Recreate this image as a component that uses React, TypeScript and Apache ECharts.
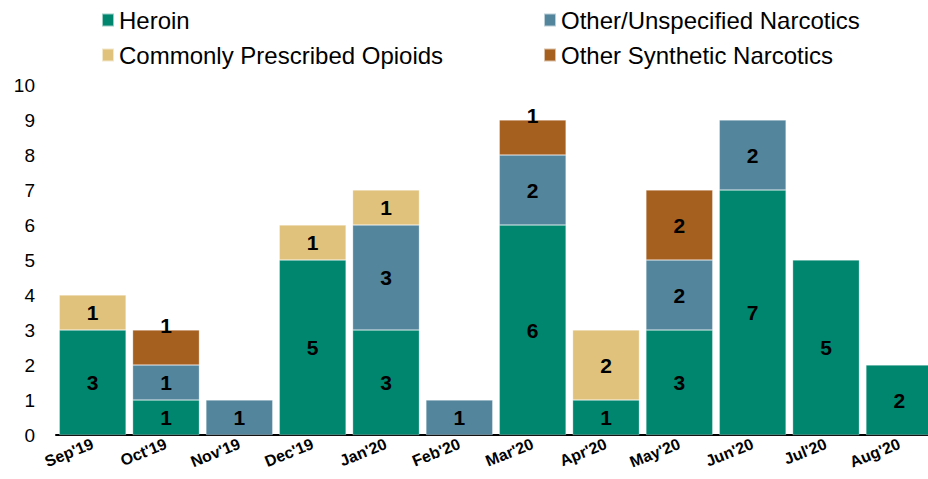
import React, { useEffect, useRef } from "react";
import * as echarts from "echarts";

const categories = ["Sep'19", "Oct'19", "Nov'19", "Dec'19", "Jan'20", "Feb'20", "Mar'20", "Apr'20", "May'20", "Jun'20", "Jul'20", "Aug'20"];
const heroin = [3, 1, 0, 5, 3, 0, 6, 1, 3, 7, 5, 2];
const otherUnspecified = [0, 1, 1, 0, 3, 1, 2, 0, 2, 2, 0, 0];
const commonlyPrescribed = [1, 0, 0, 1, 1, 0, 0, 2, 0, 0, 0, 0];
const otherSynthetic = [0, 1, 0, 0, 0, 0, 1, 0, 2, 0, 0, 0];
const yTicks = [0, 10, 1];

const COLORS = {
  heroin: "#00866F",
  other: "#53859C",
  commonly: "#E0C27D",
  synthetic: "#A55F1F",
};

const FONT = "Liberation Sans, Arial, sans-serif";

export default function App() {
  const ref = useRef<HTMLDivElement>(null);
  useEffect(() => {
    if (!ref.current) return;
    const chart = echarts.init(ref.current, undefined, { renderer: "svg" });
    const toData = (arr: number[], shiftSmall = false) =>
      arr.map((v) => {
        if (!v) return null;
        if (shiftSmall && v === 1) {
          return { value: v, label: { offset: [0, -22] } };
        }
        return v;
      });
    const mk = (name: string, arr: number[], color: string, shiftSmall = false) => ({
      name,
      type: "bar",
      stack: "total",
      barCategoryGap: "9%",
      data: toData(arr, shiftSmall),
      itemStyle: { color, borderColor: "rgba(255,255,255,0.6)", borderWidth: 0.5 },
      label: {
        show: true,
        position: "inside",
        color: "#000",
        fontWeight: "bold",
        fontSize: 21,
        fontFamily: FONT,
      },
    });
    const legendText = { fontSize: 24, color: "#000", fontFamily: FONT, lineHeight: 24, padding: [0, 0, 0, 0] };
    chart.setOption({
      animation: false,
      textStyle: { fontFamily: FONT },
      legend: [
        {
          data: ["Heroin", "Commonly Prescribed Opioids"],
          orient: "vertical",
          left: 96,
          top: 3,
          icon: "rect",
          itemWidth: 12,
          itemHeight: 13,
          itemGap: 11,
          textStyle: legendText,
        },
        {
          data: ["Other/Unspecified Narcotics", "Other Synthetic Narcotics"],
          orient: "vertical",
          left: 538,
          top: 3,
          icon: "rect",
          itemWidth: 12,
          itemHeight: 13,
          itemGap: 11,
          textStyle: legendText,
        },
      ],
      grid: { left: 56, width: 880, top: 85, bottom: 44, containLabel: false, outerBoundsMode: "none" },
      xAxis: {
        type: "category",
        data: categories,
        axisLine: { show: true, lineStyle: { color: "#000", width: 2 } },
        axisTick: { show: false },
        axisLabel: {
          rotate: 22,
          fontSize: 16,
          fontWeight: "bold",
          color: "#000",
          margin: 8,
          interval: 0,
          fontFamily: FONT,
        },
      },
      yAxis: {
        type: "value",
        min: yTicks[0],
        max: yTicks[1],
        interval: yTicks[2],
        axisLine: { show: false },
        axisTick: { show: false },
        splitLine: { show: false },
        axisLabel: { fontSize: 19, color: "#000", margin: 21, fontFamily: FONT },
      },
      series: [
        mk("Heroin", heroin, COLORS.heroin),
        mk("Other/Unspecified Narcotics", otherUnspecified, COLORS.other),
        mk("Commonly Prescribed Opioids", commonlyPrescribed, COLORS.commonly),
        mk("Other Synthetic Narcotics", otherSynthetic, COLORS.synthetic, true),
      ],
    });
    return () => chart.dispose();
  }, []);
  return <div ref={ref} style={{ width: 928, height: 479, position: "absolute", left: 0, top: 0 }} />;
}
